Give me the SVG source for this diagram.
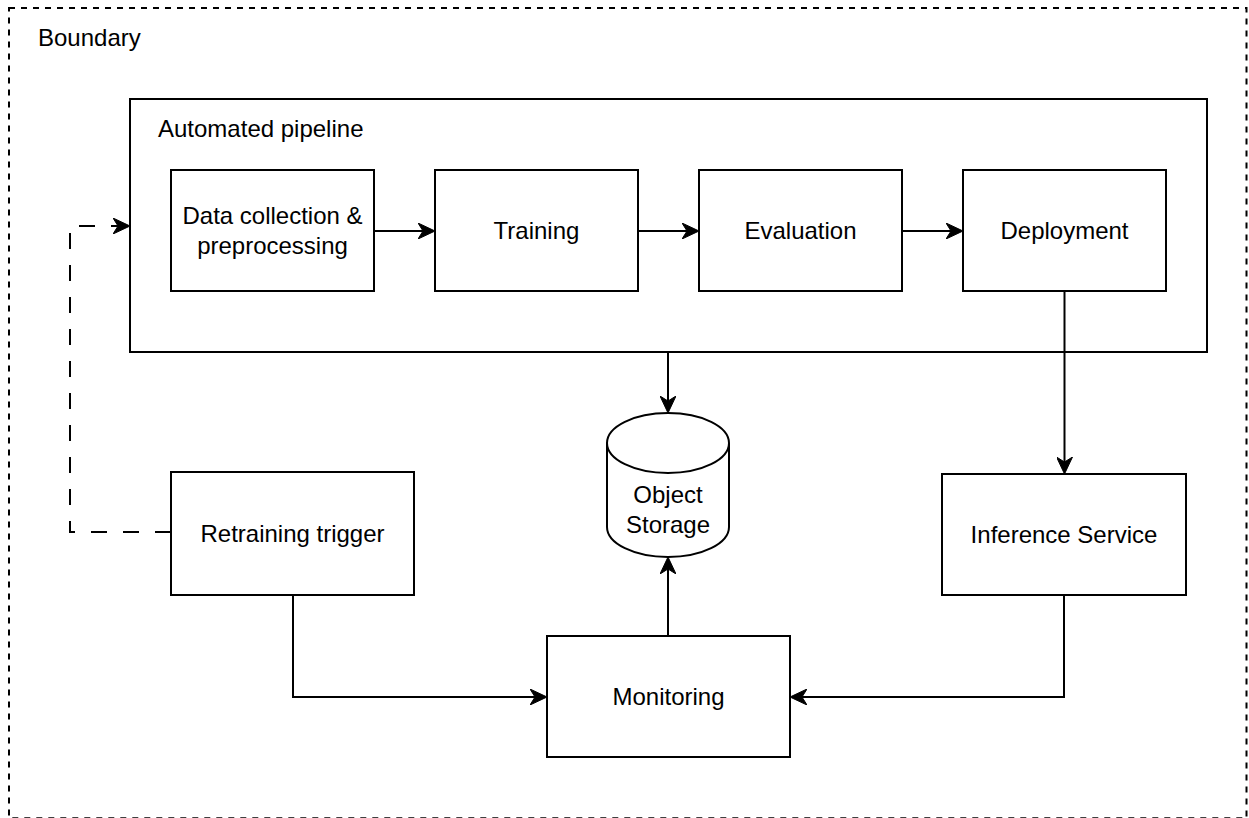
<svg xmlns="http://www.w3.org/2000/svg" width="1249" height="818" viewBox="0 0 1249 818">
<style>
  .box { fill: #ffffff; stroke: #000000; stroke-width: 2; }
  .lbl { font-family: "Liberation Sans", Arial, sans-serif; font-size: 24px; fill: #000000; }
  .c { text-anchor: middle; }
  .edge { fill: none; stroke: #000000; stroke-width: 2; }
  .dash { stroke-dasharray: 16 16; }
</style>
<defs>
  <marker id="arrow" viewBox="0 0 17 16" refX="14" refY="8" markerWidth="17" markerHeight="16" markerUnits="userSpaceOnUse" orient="auto">
    <path d="M17,8 L0,0 L5,8 L0,16 Z" fill="#000000" stroke="#000000" stroke-width="1" stroke-linejoin="miter"/>
  </marker>
</defs>
<rect width="1249" height="818" fill="#ffffff"/>

<g id="boundary">
  <rect x="9" y="8" width="1237.5" height="810.3" fill="none" stroke="#000000" stroke-width="2" stroke-dasharray="6 6"/>
  <text class="lbl" x="38" y="46">Boundary</text>
</g>

<g id="automated-pipeline">
  <rect class="box" x="130" y="99" width="1077" height="253"/>
  <text class="lbl" x="158" y="137">Automated pipeline</text>
</g>

<g id="data-collection">
  <rect class="box" x="171" y="170" width="203" height="121"/>
  <text class="lbl c" x="272.5" y="224">Data collection &amp;</text>
  <text class="lbl c" x="272.5" y="254">preprocessing</text>
</g>

<g id="training">
  <rect class="box" x="435" y="170" width="203" height="121"/>
  <text class="lbl c" x="536.5" y="239">Training</text>
</g>

<g id="evaluation">
  <rect class="box" x="699" y="170" width="203" height="121"/>
  <text class="lbl c" x="800.5" y="239">Evaluation</text>
</g>

<g id="deployment">
  <rect class="box" x="963" y="170" width="203" height="121"/>
  <text class="lbl c" x="1064.5" y="239">Deployment</text>
</g>

<g id="object-storage">
  <path class="box" d="M607,443 A61,30 0 0 1 729,443 L729,527 A61,30 0 0 1 607,527 Z"/>
  <path class="edge" d="M607,443 A61,30 0 0 0 729,443"/>
  <text class="lbl c" x="668" y="503">Object</text>
  <text class="lbl c" x="668" y="533">Storage</text>
</g>

<g id="retraining-trigger">
  <rect class="box" x="171" y="472" width="243" height="123"/>
  <text class="lbl c" x="292.5" y="542">Retraining trigger</text>
</g>

<g id="inference-service">
  <rect class="box" x="942" y="474" width="244" height="121"/>
  <text class="lbl c" x="1064" y="543">Inference Service</text>
</g>

<g id="monitoring">
  <rect class="box" x="547" y="636" width="243" height="121"/>
  <text class="lbl c" x="668.5" y="705">Monitoring</text>
</g>

<g id="connectors">
  <path class="edge" d="M374,231 L432,231" marker-end="url(#arrow)"/>
  <path class="edge" d="M638,231 L696,231" marker-end="url(#arrow)"/>
  <path class="edge" d="M902,231 L960,231" marker-end="url(#arrow)"/>
  <path class="edge" d="M668,352 L668,410" marker-end="url(#arrow)"/>
  <path class="edge" d="M668,636 L668,560" marker-end="url(#arrow)"/>
  <path class="edge" d="M1064.5,291 L1064.5,471" marker-end="url(#arrow)"/>
  <path class="edge" d="M1064,595 L1064,697 L793,697" marker-end="url(#arrow)"/>
  <path class="edge" d="M293,595 L293,697 L544,697" marker-end="url(#arrow)"/>
  <path class="edge dash" d="M171,532 L70,532 L70,226 L127,226" marker-end="url(#arrow)"/>
</g>
</svg>
